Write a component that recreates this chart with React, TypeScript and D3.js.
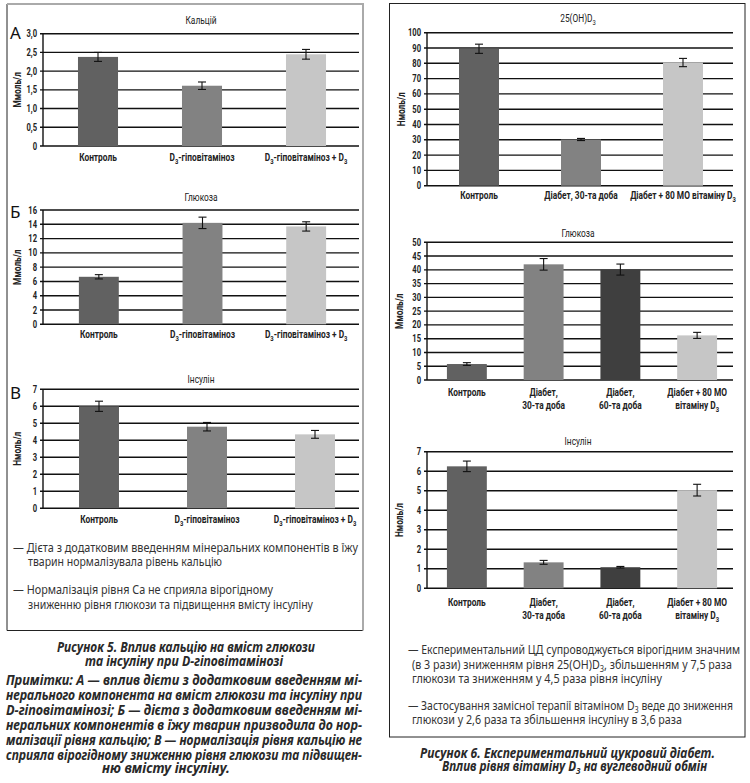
import React from "react";
import * as d3 from "d3";

// ---- data: figure 5 (left) ----
const leftCategories = ["Контроль", "D₃-гіповітаміноз", "D₃-гіповітаміноз + D₃"];
const leftColors = ["#616161", "#828282", "#c6c6c6"];

const calciumValues = [2.38, 1.61, 2.45];
const calciumErrors = [0.12, 0.1, 0.13];
const calciumTicks = [0, 0.5, 1, 1.5, 2, 2.5, 3];

const glucoseLeftValues = [6.65, 14.2, 13.7];
const glucoseLeftErrors = [0.3, 0.8, 0.65];
const glucoseLeftTicks = [0, 2, 4, 6, 8, 10, 12, 14, 16];

const insulinLeftValues = [6.0, 4.8, 4.35];
const insulinLeftErrors = [0.3, 0.25, 0.23];
const insulinLeftTicks = [0, 1, 2, 3, 4, 5, 6, 7];

// ---- data: figure 6 (right) ----
const vitDCategories = [["Контроль"], ["Діабет, 30-та доба"], ["Діабет + 80 МО вітаміну D₃"]];
const vitDColors = ["#616161", "#828282", "#c6c6c6"];
const vitDValues = [89.5, 30.2, 80.5];
const vitDErrors = [3, 0.7, 2.7];
const vitDTicks = [0, 10, 20, 30, 40, 50, 60, 70, 80, 90, 100];

const diabetesCategories = [["Контроль"], ["Діабет,", "30-та доба"], ["Діабет,", "60-та доба"], ["Діабет + 80 МО", "вітаміну D₃"]];
const diabetesColors = ["#616161", "#828282", "#3f3f3f", "#c6c6c6"];

const glucoseRightValues = [5.8, 42, 40.1, 16.2];
const glucoseRightErrors = [0.5, 2.1, 2, 1.1];
const glucoseRightTicks = [0, 5, 10, 15, 20, 25, 30, 35, 40, 45, 50];

const insulinRightValues = [6.25, 1.33, 1.08, 5.03];
const insulinRightErrors = [0.27, 0.1, 0.04, 0.3];
const insulinRightTicks = [0, 1, 2, 3, 4, 5, 6, 7];

// ---- texts ----
const leftNotes = [
  "— Дієта з додатковим введенням мінеральних компонентів в їжу",
  "тварин нормалізувала рівень кальцію",
  "— Нормалізація рівня Са не сприяла вірогідному",
  "зниженню рівня глюкози та підвищення вмісту інсуліну",
];
const rightNotes = [
  "— Експериментальний ЦД супроводжується вірогідним значним",
  "(в 3 рази) зниженням рівня 25(OH)D₃, збільшенням у 7,5 раза",
  "глюкози та зниженням у 4,5 раза рівня інсуліну",
  "— Застосування замісної терапії вітаміном D₃ веде до зниження",
  "глюкози у 2,6 раза та збільшення інсуліну в 3,6 раза",
];
const leftCaption = ["Рисунок 5. Вплив кальцію на вміст глюкози", "та інсуліну при D-гіповітамінозі"];
const leftRemarks = [
  "Примітки: А — вплив дієти з додатковим введенням мі-",
  "нерального компонента на вміст глюкози та інсуліну при",
  "D-гіповітамінозі; Б — дієта з додатковим введенням мі-",
  "неральних компонентів в їжу тварин призводила до нор-",
  "малізації рівня кальцію; В — нормалізація рівня кальцію не",
  "сприяла вірогідному зниженню рівня глюкози та підвищен-",
  "ню вмісту інсуліну.",
];
const rightCaption = ["Рисунок 6. Експериментальний цукровий діабет.", "Вплив рівня вітаміну D₃ на вуглеводний обмін"];

const CHART_FONT = "Roboto, 'Noto Sans', sans-serif";
const TEXT_FONT = "'Noto Sans', 'Open Sans', sans-serif";
const SQUEEZE = 0.76; // fake a condensed face

function rich(text: string, shift = 3) {
  const parts = text.split("₃");
  const out: React.ReactNode[] = [];
  parts.forEach((p, i) => {
    if (i > 0) {
      out.push(<tspan key={"s" + i} dy={shift} style={{ fontSize: "0.7em" }}>3</tspan>);
      out.push(<tspan key={"p" + i} dy={-shift}>{p}</tspan>);
    } else {
      out.push(<tspan key={"p" + i}>{p}</tspan>);
    }
  });
  return out;
}

// condensed text helper
const CText: React.FC<{ x: number; y: number; rot?: boolean; anchor?: string; size: number; bold?: boolean; children: React.ReactNode }> = ({ x, y, rot, anchor = "middle", size, bold, children }) => (
  <text
    transform={`translate(${x},${y})${rot ? " rotate(-90)" : ""} scale(${SQUEEZE},1)`}
    textAnchor={anchor}
    fontSize={size}
    fontWeight={bold ? "bold" : "normal"}
  >
    {children}
  </text>
);

interface PanelProps {
  title: string;
  yLabel: string;
  labels: string[][];
  values: number[];
  errors: number[];
  ticks: number[];
  colors: string[];
  fmt: (v: number) => string;
  axisX: number;
  gridEnd: number;
  yTop: number;
  yBottom: number;
  band: [number, number];
  pad: number;
  titleX: number;
  titleY: number;
  labelY: number;
  yLabelX: number;
  letter?: string;
  letterY?: number;
}

const Panel: React.FC<PanelProps> = (p) => {
  const idx = p.values.map((_, i) => String(i));
  const x = d3.scaleBand().domain(idx).range(p.band).paddingInner(p.pad).paddingOuter(p.pad / 2);
  const y = d3.scaleLinear().domain([0, d3.max(p.ticks) as number]).range([p.yBottom, p.yTop]);
  const bw = x.bandwidth();
  return (
    <g fontFamily={CHART_FONT} fill="#222">
      {p.letter && (
        <text x={10} y={p.letterY} fontSize={17} fontFamily={TEXT_FONT} fill="#111">{p.letter}</text>
      )}
      <CText x={p.titleX} y={p.titleY} size={11}>{rich(p.title, 2.5)}</CText>
      {p.ticks.map((t) => (
        <g key={t}>
          <line x1={p.axisX - 3} x2={p.gridEnd} y1={y(t)} y2={y(t)} stroke="#111" strokeWidth={1.4} />
          <CText x={p.axisX - 6} y={y(t) + 3.5} anchor="end" size={10} bold>{p.fmt(t)}</CText>
        </g>
      ))}
      <line x1={p.axisX} x2={p.axisX} y1={p.yTop} y2={p.yBottom} stroke="#111" strokeWidth={1.4} />
      <CText x={p.yLabelX} y={(p.yTop + p.yBottom) / 2} rot size={11} bold>{p.yLabel}</CText>
      {p.values.map((v, i) => {
        const cx = (x(String(i)) as number) + bw / 2;
        const e = p.errors[i];
        return (
          <g key={i}>
            <rect x={cx - bw / 2} y={y(v)} width={bw} height={p.yBottom - y(v)} fill={p.colors[i]} />
            <line x1={cx} x2={cx} y1={y(v + e)} y2={y(v - e)} stroke="#111" strokeWidth={1.1} />
            <line x1={cx - 4} x2={cx + 4} y1={y(v + e)} y2={y(v + e)} stroke="#111" strokeWidth={1.1} />
            <line x1={cx - 4} x2={cx + 4} y1={y(v - e)} y2={y(v - e)} stroke="#111" strokeWidth={1.1} />
            {p.labels[i].map((ln, j) => (
              <CText key={j} x={cx} y={p.labelY + j * 13} size={11} bold>{rich(ln, 2.5)}</CText>
            ))}
          </g>
        );
      })}
    </g>
  );
};

const commaFmt = (v: number) => (v === 0 ? "0" : d3.format(".1f")(v).replace(".", ","));
const intFmt = (v: number) => d3.format("d")(v);

const App: React.FC = () => {
  const leftLabels = leftCategories.map((c) => [c]);
  return (
    <svg width={750} height={783} style={{ position: "absolute", left: 0, top: 0, background: "#fff" }}>
      {/* left frame */}
      <line x1={7} x2={7} y1={4} y2={630.5} stroke="#222" strokeWidth={1} />
      <line x1={7} x2={363} y1={630.5} y2={630.5} stroke="#222" strokeWidth={1} />
      <line x1={7} x2={364} y1={4} y2={4} stroke="#aaa" strokeWidth={2} />
      <line x1={363} x2={363} y1={4} y2={630.5} stroke="#aaa" strokeWidth={2} />
      {/* right frame */}
      <rect x={389.5} y={3.5} width={355.5} height={733.5} fill="none" stroke="#222" strokeWidth={1} />

      <Panel title="Кальцій" yLabel="Ммоль/л" labels={leftLabels} values={calciumValues} errors={calciumErrors}
        ticks={calciumTicks} colors={leftColors} fmt={commaFmt} axisX={43} gridEnd={359} yTop={33.7} yBottom={146}
        band={[46, 358]} pad={0.615} titleX={201} titleY={24} labelY={161} yLabelX={21} letter="А" letterY={39} />
      <Panel title="Глюкоза" yLabel="Ммоль/л" labels={leftLabels} values={glucoseLeftValues} errors={glucoseLeftErrors}
        ticks={glucoseLeftTicks} colors={leftColors} fmt={intFmt} axisX={43} gridEnd={359} yTop={210} yBottom={324.3}
        band={[47, 358]} pad={0.615} titleX={201} titleY={201} labelY={338} yLabelX={21} letter="Б" letterY={218} />
      <Panel title="Інсулін" yLabel="Нмоль/л" labels={leftLabels} values={insulinLeftValues} errors={insulinLeftErrors}
        ticks={insulinLeftTicks} colors={leftColors} fmt={intFmt} axisX={43} gridEnd={359} yTop={389.3} yBottom={508.3}
        band={[45, 369]} pad={0.63} titleX={201} titleY={382.5} labelY={523} yLabelX={21} letter="В" letterY={399} />

      <Panel title="25(OH)D₃" yLabel="Нмоль/л" labels={vitDCategories} values={vitDValues} errors={vitDErrors}
        ticks={vitDTicks} colors={vitDColors} fmt={intFmt} axisX={427} gridEnd={733} yTop={32.7} yBottom={185.7}
        band={[428, 734]} pad={0.608} titleX={578} titleY={22} labelY={199} yLabelX={405} />
      <Panel title="Глюкоза" yLabel="Ммоль/л" labels={diabetesCategories} values={glucoseRightValues} errors={glucoseRightErrors}
        ticks={glucoseRightTicks} colors={diabetesColors} fmt={intFmt} axisX={427} gridEnd={733} yTop={242.3} yBottom={380}
        band={[428.5, 735.5]} pad={0.48} titleX={578} titleY={237} labelY={396} yLabelX={403} />
      <Panel title="Інсулін" yLabel="Нмоль/л" labels={diabetesCategories} values={insulinRightValues} errors={insulinRightErrors}
        ticks={insulinRightTicks} colors={diabetesColors} fmt={intFmt} axisX={427} gridEnd={733} yTop={451.7} yBottom={588.3}
        band={[428.5, 735.5]} pad={0.48} titleX={578} titleY={445} labelY={606} yLabelX={403} />

      {/* notes */}
      <g fontFamily={TEXT_FONT} fontSize={12.5} fill="#333">
        {leftNotes.map((t, i) => {
          const pos = [[13, 552, 345], [28, 566, 194], [13, 594, 260], [28, 609, 285]][i];
          return (
            <text key={i} x={pos[0]} y={pos[1]} textLength={pos[2]} lengthAdjust="spacingAndGlyphs">{t}</text>
          );
        })}
        {rightNotes.map((t, i) => {
          const pos = [[408, 654, 332], [412, 669, 320], [412, 683, 250], [408, 710, 325], [412, 724, 270]][i];
          return (
            <text key={i} x={pos[0]} y={pos[1]} textLength={pos[2]} lengthAdjust="spacingAndGlyphs">{rich(t, 3)}</text>
          );
        })}
      </g>

      {/* captions */}
      <g fontFamily={TEXT_FONT} fontSize={13.5} fontWeight="bold" fontStyle="italic" fill="#2a2a2a">
        {leftCaption.map((t, i) => {
          const pos = [[57, 652, 258], [85, 666, 198]][i];
          return (
            <text key={i} x={pos[0]} y={pos[1]} textLength={pos[2]} lengthAdjust="spacingAndGlyphs">{t}</text>
          );
        })}
        {leftRemarks.map((t, i) => {
          const last = i === leftRemarks.length - 1;
          return last ? (
            <text key={i} x={166} y={683 + i * 15} textAnchor="middle">{t}</text>
          ) : (
            <text key={i} x={6} y={685 + i * 15} textLength={356} lengthAdjust="spacingAndGlyphs">{t}</text>
          );
        })}
        {rightCaption.map((t, i) => {
          const pos = [[420, 758, 295], [442, 771, 265]][i];
          return (
            <text key={i} x={pos[0]} y={pos[1]} textLength={pos[2]} lengthAdjust="spacingAndGlyphs">{rich(t, 3)}</text>
          );
        })}
      </g>
    </svg>
  );
};

export default App;
